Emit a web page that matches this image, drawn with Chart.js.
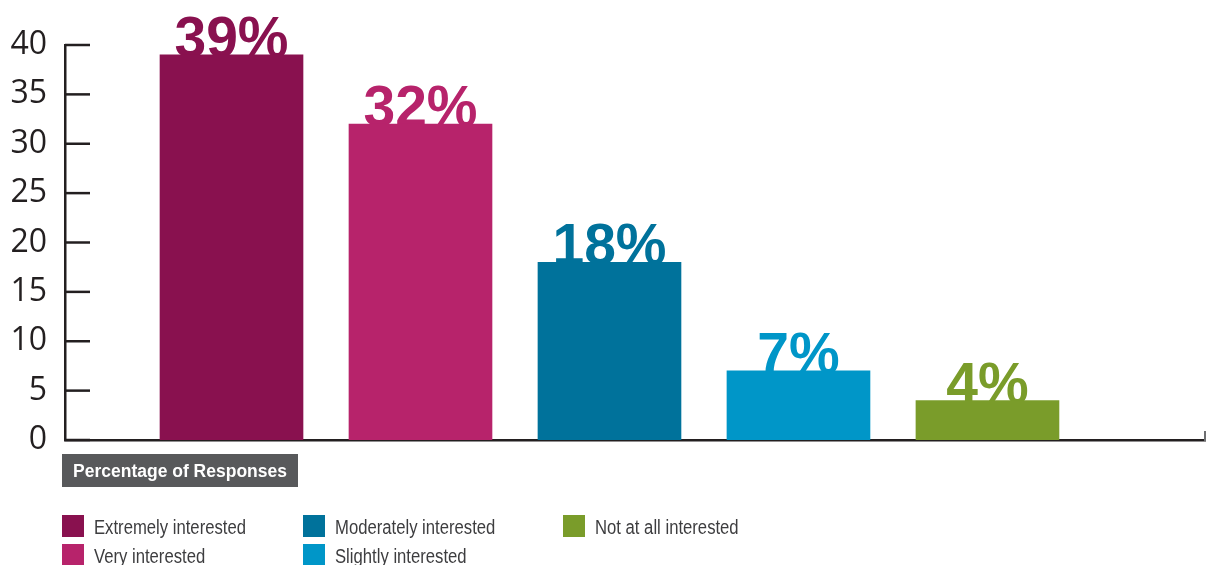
<!DOCTYPE html>
<html>
<head>
<meta charset="utf-8">
<script src="https://cdn.jsdelivr.net/npm/chart.js@4"></script>
<style>
  html, body { margin: 0; padding: 0; background: #fff; }
  #wrap { width: 1207px; height: 565px; position: relative; }
</style>
</head>
<body>
<div id="wrap"><canvas id="chart" width="1207" height="565"></canvas></div>
<script>
// data
const categories = ["Extremely interested", "Very interested", "Moderately interested", "Slightly interested", "Not at all interested"];
const percentages = [39, 32, 18, 7, 4];
const barColors = ["#89114f", "#b7236b", "#00729b", "#0096c8", "#7a9c2a"];
const yTicks = [0, 5, 10, 15, 20, 25, 30, 35, 40];
const axisTitle = "Percentage of Responses";

const ink = "#231f20";

// draw text squeezed horizontally (no condensed font installed)
function narrowText(ctx, text, x, y, sx) {
    ctx.save();
    ctx.translate(x, y);
    ctx.scale(sx, 1);
    ctx.fillText(text, 0, 0);
    ctx.restore();
}

// labels on top of the bars, drawn before the bars so the bars cover the baseline a bit
const valueLabels = {
    id: "valueLabels",
    beforeDatasetsDraw(chart) {
        const ctx = chart.ctx;
        const meta = chart.getDatasetMeta(0);
        ctx.save();
        ctx.font = "bold 57px 'Liberation Sans', Arial, sans-serif";
        ctx.textAlign = "center";
        ctx.textBaseline = "alphabetic";
        meta.data.forEach((bar, i) => {
            ctx.fillStyle = barColors[i];
            ctx.fillText(percentages[i] + "%", bar.x, bar.y + 2);
        });
        ctx.restore();
    }
};

// tick marks on the inside of the y axis, end cap on x axis, title box and legend
const extras = {
    id: "extras",
    afterDraw(chart) {
        const ctx = chart.ctx;
        const y = chart.scales.y;
        const area = chart.chartArea;
        ctx.save();

        // --- y tick marks ---
        ctx.strokeStyle = ink;
        ctx.lineWidth = 2.5;
        y.ticks.forEach((t, i) => {
            const py = y.getPixelForTick(i);
            ctx.beginPath();
            ctx.moveTo(area.left, py);
            ctx.lineTo(area.left + 25, py);
            ctx.stroke();
        });

        // --- small upturn at the end of the x axis ---
        ctx.strokeStyle = "#6d6e71";
        ctx.lineWidth = 2;
        ctx.beginPath();
        ctx.moveTo(area.right, area.bottom + 1);
        ctx.lineTo(area.right, area.bottom - 9);
        ctx.stroke();

        // --- "Percentage of Responses" box ---
        ctx.fillStyle = "#58595b";
        ctx.fillRect(62, 454, 236, 33);
        ctx.fillStyle = "#ffffff";
        ctx.font = "bold 18px 'Liberation Sans', Arial, sans-serif";
        ctx.textAlign = "left";
        ctx.textBaseline = "alphabetic";
        narrowText(ctx, axisTitle, 73, 477, 214 / ctx.measureText(axisTitle).width);

        // --- legend, column by column ---
        const colX = [62, 303, 563];
        const rowTop = [515, 544];
        ctx.font = "19.5px 'Liberation Sans', Arial, sans-serif";
        categories.forEach((name, i) => {
            const cx = colX[Math.floor(i / 2)];
            const top = rowTop[i % 2];
            ctx.fillStyle = barColors[i];
            ctx.fillRect(cx, top, 22, 22);
            ctx.fillStyle = "#3d3d3f";
            narrowText(ctx, name, cx + 32, top + 19, 0.855);
        });

        ctx.restore();
    }
};

new Chart(document.getElementById("chart"), {
    type: "bar",
    data: {
        datasets: [{
            label: axisTitle,
            data: percentages.map((v, i) => ({ x: i, y: v })),
            backgroundColor: barColors,
            borderWidth: 0,
            barThickness: 143
        }]
    },
    options: {
        responsive: false,
        animation: false,
        devicePixelRatio: 1,
        layout: { padding: { top: 45, right: 2, bottom: 125, left: 0 } },
        plugins: {
            legend: { display: false },
            tooltip: { enabled: false }
        },
        scales: {
            x: {
                type: "linear",
                offset: false,
                min: -0.881,
                max: 5.151,
                ticks: { display: false },
                grid: { display: false, drawTicks: false, offset: false },
                border: { display: true, color: ink, width: 2.5 },
                afterFit(scale) { scale.height = 0; }
            },
            y: {
                min: 0,
                max: 40,
                afterBuildTicks(scale) { scale.ticks = yTicks.map(v => ({ value: v })); },
                ticks: {
                    color: ink,
                    padding: 18,
                    font: { family: "'Open Sans', 'Noto Sans', sans-serif", size: 32 }
                },
                grid: { display: false, drawTicks: false },
                border: { display: true, color: ink, width: 2.5 },
                afterFit(scale) { scale.width = 65; }
            }
        }
    },
    plugins: [valueLabels, extras]
});
</script>
</body>
</html>
